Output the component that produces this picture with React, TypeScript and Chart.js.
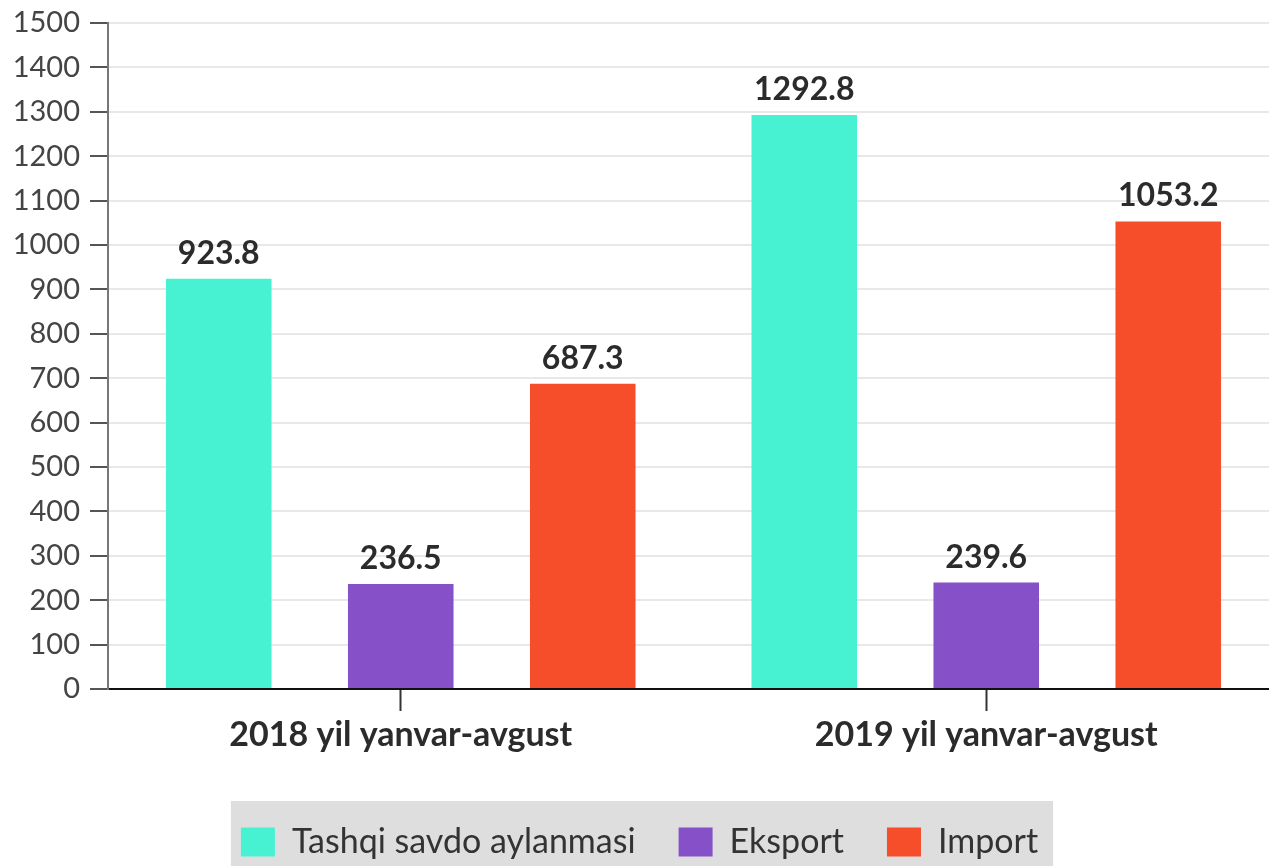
import React, { useEffect, useRef } from 'react';
import { Chart, registerables } from 'chart.js';

Chart.register(...registerables);

const categories = ['2018 yil yanvar-avgust', '2019 yil yanvar-avgust'];
const seriesNames = ['Tashqi savdo aylanmasi', 'Eksport', 'Import'];
const tashqiValues = [923.8, 1292.8];
const eksportValues = [236.5, 239.6];
const importValues = [687.3, 1053.2];
const seriesColors = ['#47f2d3', '#8650c8', '#f64e2b'];
const yMin = 0;
const yMax = 1500;
const yStep = 100;

const FONT = 'Lato, "Noto Sans", sans-serif';

const valueLabels = {
  id: 'valueLabels',
  afterDatasetsDraw(chart: any) {
    const ctx = chart.ctx;
    ctx.save();
    ctx.font = `bold 32px ${FONT}`;
    ctx.fillStyle = '#2b2b2b';
    ctx.textAlign = 'center';
    ctx.textBaseline = 'alphabetic';
    chart.data.datasets.forEach((ds: any, i: number) => {
      const meta = chart.getDatasetMeta(i);
      meta.data.forEach((el: any, j: number) => {
        const v = ds.data[j];
        ctx.fillText(Number(v).toFixed(1), el.x, el.y - 15);
      });
    });
    ctx.restore();
  },
};

const legendBg = {
  id: 'legendBg',
  beforeDraw(chart: any) {
    const lg = chart.legend;
    if (!lg || !lg.legendHitBoxes || !lg.legendHitBoxes.length) return;
    const boxes = lg.legendHitBoxes;
    const l = boxes[0].left;
    const r = boxes[boxes.length - 1].left + boxes[boxes.length - 1].width;
    const ctx = chart.ctx;
    ctx.save();
    ctx.fillStyle = '#dedede';
    ctx.fillRect(l - 10, boxes[0].top - 24, r - l + 10 + 15, 200);
    ctx.restore();
  },
};

export default function App() {
  const ref = useRef<HTMLCanvasElement>(null);
  useEffect(() => {
    if (!ref.current) return;
    const values = [tashqiValues, eksportValues, importValues];
    const chart = new Chart(ref.current, {
      type: 'bar',
      data: {
        labels: categories,
        datasets: seriesNames.map((name, i) => ({
          label: name,
          data: values[i],
          backgroundColor: seriesColors[i],
          borderWidth: 0,
          categoryPercentage: 0.9325,
          barPercentage: 0.58,
        })),
      },
      options: {
        responsive: false,
        animation: false,
        devicePixelRatio: 1,
        layout: { padding: { top: 23, right: 11, left: 0, bottom: 11 } },
        plugins: {
          tooltip: { enabled: false },
          legend: {
            position: 'bottom',
            labels: {
              boxWidth: 34,
              boxHeight: 29,
              padding: 43,
              color: '#333',
              font: { family: FONT, size: 34 },
            },
          },
        },
        scales: {
          x: {
            grid: {
              offset: false,
              drawOnChartArea: false,
              tickLength: 22,
              tickColor: '#333',
              tickWidth: 2,
            },
            border: { color: '#111', width: 2 },
            ticks: {
              color: '#2b2b2b',
              padding: 4,
              font: { family: FONT, size: 34, weight: 'bold' },
            },
            afterFit: (s: any) => {
              s.height = 93;
            },
          },
          y: {
            min: yMin,
            max: yMax,
            grid: {
              color: '#e8e8e8',
              lineWidth: 2,
              tickLength: 18,
              tickColor: '#555',
              tickWidth: 2,
            },
            border: { color: '#777', width: 2 },
            ticks: {
              stepSize: yStep,
              color: '#444',
              padding: 10,
              font: { family: FONT, size: 29 },
              callback: (v: any) => String(v),
            },
            afterFit: (s: any) => {
              s.width = 108;
              s.paddingTop = 0;
            },
          },
        },
      },
      plugins: [valueLabels, legendBg],
    });
    return () => chart.destroy();
  }, []);
  return (
    <div style={{ position: 'fixed', left: 0, top: 0, width: 1269, height: 866, overflow: 'hidden', background: '#fff' }}>
      <canvas ref={ref} width={1290} height={880} style={{ display: 'block' }} />
    </div>
  );
}
